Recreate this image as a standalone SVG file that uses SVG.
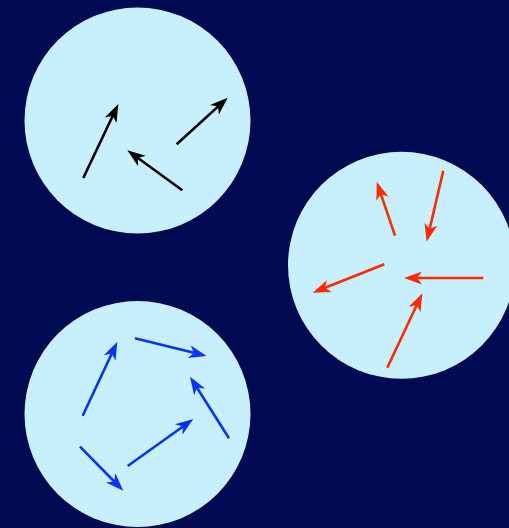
<svg xmlns="http://www.w3.org/2000/svg" width="509" height="528" viewBox="0 0 509 528">
<style>
.bg{fill:#000a52}
.c{fill:#c8f0fc}
.k{stroke:#000;stroke-width:2.6;fill:none;marker-end:url(#mk)}
.r{stroke:#ff2a00;stroke-width:2.6;fill:none;marker-end:url(#mr)}
.b{stroke:#0a32ff;stroke-width:2.6;fill:none;marker-end:url(#mb)}
</style>
<defs>
<marker id="mk" markerUnits="userSpaceOnUse" markerWidth="19" markerHeight="16" viewBox="0 0 19 16" refX="10" refY="8" orient="auto"><path d="M0,1.5 L18,8 L0,14.5 L5,8 z" fill="#000"/></marker>
<marker id="mr" markerUnits="userSpaceOnUse" markerWidth="19" markerHeight="16" viewBox="0 0 19 16" refX="10" refY="8" orient="auto"><path d="M0,1.5 L18,8 L0,14.5 L5,8 z" fill="#ff2a00"/></marker>
<marker id="mb" markerUnits="userSpaceOnUse" markerWidth="19" markerHeight="16" viewBox="0 0 19 16" refX="10" refY="8" orient="auto"><path d="M0,1.5 L18,8 L0,14.5 L5,8 z" fill="#0a32ff"/></marker>
</defs>
<rect class="bg" x="0" y="0" width="509" height="528"/>
<g id="circle-black"><circle class="c" cx="137.5" cy="120.5" r="113"/></g>
<g id="circle-red"><circle class="c" cx="401.5" cy="265.3" r="113.5"/></g>
<g id="circle-blue"><circle class="c" cx="137.5" cy="414" r="113"/></g>
<g id="connectors">
<line class="k" x1="83.3" y1="178" x2="114.9" y2="111.2"/>
<line class="k" x1="182.3" y1="190.3" x2="133.8" y2="155"/>
<line class="k" x1="176.7" y1="144.3" x2="221.8" y2="103.1"/>
<line class="r" x1="395" y1="235.7" x2="379.3" y2="189.3"/>
<line class="r" x1="443.3" y1="170.7" x2="428.5" y2="233.9"/>
<line class="r" x1="384.3" y1="264.3" x2="320.1" y2="289.7"/>
<line class="r" x1="483.3" y1="278" x2="412" y2="278"/>
<line class="r" x1="387.3" y1="367.7" x2="418.9" y2="300.5"/>
<line class="b" x1="82.7" y1="415.7" x2="113.9" y2="349"/>
<line class="b" x1="135" y1="338.3" x2="198.9" y2="354.1"/>
<line class="b" x1="229" y1="438.3" x2="194.3" y2="383.5"/>
<line class="b" x1="127.7" y1="466" x2="186.8" y2="423.7"/>
<line class="b" x1="80" y1="446.7" x2="117.7" y2="485"/>
</g>
</svg>
